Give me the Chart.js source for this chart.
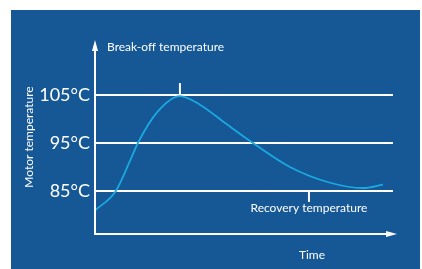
<!DOCTYPE html>
<html>
<head>
<meta charset="utf-8">
<script src="https://cdn.jsdelivr.net/npm/chart.js@4"></script>
<style>
  html, body { margin: 0; padding: 0; background: #ffffff; }
  #wrap { width: 422px; height: 269px; }
</style>
</head>
<body>
<div id="wrap"><canvas id="chart" width="422" height="269"></canvas></div>
<script>
// time in arbitrary units (0..100), temperature in °C
const timeValues = [0, 7.0, 11.7, 14.4, 20.8, 28.5, 35.2, 44.0, 53.0, 65.4, 78.9, 89.9, 96.6];
const tempValues = [80.9, 85.0, 91.2, 95.0, 101.4, 104.8, 103.0, 99.0, 95.0, 90.0, 86.7, 85.6, 86.3];
const tickValues = [85, 95, 105];
const tickLabels = ['85°C', '95°C', '105°C'];
const markerTimes = [28.5, 71.8];
const markerTemps = [105, 85];
const markerLabels = ['Break-off temperature', 'Recovery temperature'];
const axisTitles = ['Time', 'Motor temperature'];

const bgBlue = '#165896';
const lineBlue = '#1ba8e0';
const fontFamily = 'Lato, "Open Sans", sans-serif';

const backdrop = {
    id: 'backdrop',
    beforeDraw(chart) {
        const ctx = chart.ctx;
        ctx.save();
        ctx.fillStyle = bgBlue;
        ctx.fillRect(11, 10, 409, 259);
        ctx.restore();
    }
};

const axesAndNotes = {
    id: 'axesAndNotes',
    afterDraw(chart) {
        const ctx = chart.ctx;
        const area = chart.chartArea;
        const xs = chart.scales.x;
        const ys = chart.scales.y;
        ctx.save();
        ctx.strokeStyle = '#ffffff';
        ctx.fillStyle = '#ffffff';
        ctx.lineWidth = 2;

        // y axis with arrow
        ctx.beginPath();
        ctx.moveTo(area.left, area.bottom + 1);
        ctx.lineTo(area.left, area.top + 8);
        ctx.stroke();
        ctx.beginPath();
        ctx.moveTo(area.left, area.top);
        ctx.lineTo(area.left - 3, area.top + 11);
        ctx.lineTo(area.left + 3, area.top + 11);
        ctx.closePath();
        ctx.fill();

        // x axis with arrow
        ctx.beginPath();
        ctx.moveTo(area.left - 1, area.bottom);
        ctx.lineTo(area.right - 2, area.bottom);
        ctx.stroke();
        ctx.beginPath();
        ctx.moveTo(area.right + 4, area.bottom);
        ctx.lineTo(area.right - 7, area.bottom - 3);
        ctx.lineTo(area.right - 7, area.bottom + 3);
        ctx.closePath();
        ctx.fill();

        // markers
        const px0 = xs.getPixelForValue(markerTimes[0]);
        const py0 = ys.getPixelForValue(markerTemps[0]);
        ctx.beginPath();
        ctx.moveTo(px0, py0);
        ctx.lineTo(px0, py0 - 12);
        ctx.stroke();
        const px1 = xs.getPixelForValue(markerTimes[1]);
        const py1 = ys.getPixelForValue(markerTemps[1]);
        ctx.beginPath();
        ctx.moveTo(px1, py1);
        ctx.lineTo(px1, py1 + 11);
        ctx.stroke();

        ctx.font = '12px ' + fontFamily;
        ctx.textBaseline = 'middle';
        ctx.textAlign = 'left';
        ctx.fillText(markerLabels[0], area.left + 12, area.top + 7);
        ctx.textAlign = 'center';
        ctx.fillText(markerLabels[1], px1, py1 + 17);
        ctx.fillText(axisTitles[0], 312, 255);
        ctx.restore();
    }
};

new Chart(document.getElementById('chart'), {
    type: 'line',
    data: {
        datasets: [{
            data: timeValues.map((t, i) => ({ x: t, y: tempValues[i] })),
            borderColor: lineBlue,
            borderWidth: 1.8,
            pointRadius: 0,
            fill: false,
            cubicInterpolationMode: 'monotone',
            clip: false
        }]
    },
    options: {
        responsive: false,
        animation: false,
        events: [],
        layout: { padding: { left: 22, top: 40, right: 29, bottom: 35 } },
        plugins: { legend: { display: false }, tooltip: { enabled: false } },
        scales: {
            x: {
                type: 'linear',
                display: false,
                min: 0,
                max: 100
            },
            y: {
                type: 'linear',
                min: 76,
                max: 116.5,
                afterBuildTicks: (scale) => {
                    scale.ticks = tickValues.map(v => ({ value: v }));
                },
                afterFit: (scale) => { scale.width = 73; },
                border: { display: false },
                grid: { color: '#ffffff', lineWidth: 2, drawTicks: false },
                ticks: {
                    color: '#ffffff',
                    padding: 5,
                    font: { family: fontFamily, size: 18 },
                    callback: (v) => tickLabels[tickValues.indexOf(v)]
                },
                title: {
                    display: true,
                    text: axisTitles[1],
                    color: '#ffffff',
                    padding: 0,
                    font: { family: fontFamily, size: 12 }
                }
            }
        }
    },
    plugins: [backdrop, axesAndNotes]
});
</script>
</body>
</html>
